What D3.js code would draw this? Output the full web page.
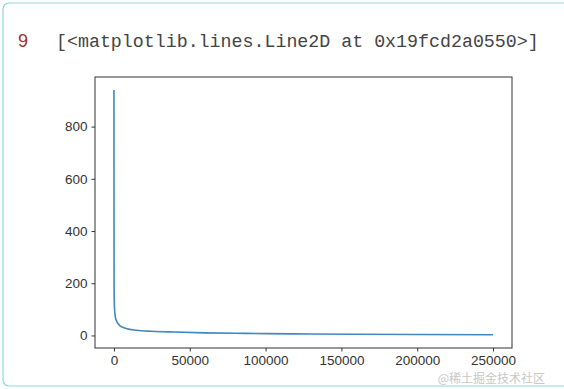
<!DOCTYPE html>
<html>
<head>
<meta charset="utf-8">
<script src="https://cdn.jsdelivr.net/npm/d3@7"></script>
<style>
  body { margin: 0; background: #fff; }
  svg { display: block; }
</style>
</head>
<body>
<script>
// values
var xs = [0, 20, 100, 300, 600, 1000, 2000, 4000, 8000, 15000, 25000, 40000, 60000, 80000, 100000, 130000, 160000, 200000, 250000];
var ys = [940, 600, 180, 110, 85, 68, 52, 37, 27, 20, 16, 13, 10, 8.5, 7, 5.5, 4.5, 3.5, 2.5];
var xTicks = [0, 50000, 100000, 150000, 200000, 250000];
var yTicks = [0, 200, 400, 600, 800];

var width = 564, height = 389;
var margin = {top: 77, right: 52, bottom: 41, left: 95};
var w = width - margin.left - margin.right;
var h = height - margin.top - margin.bottom;

var svg = d3.select("body").append("svg")
    .attr("width", width)
    .attr("height", height);

// notebook cell frame
svg.append("rect")
    .attr("x", 3).attr("y", 3)
    .attr("width", 600).attr("height", 383)
    .attr("rx", 6)
    .attr("fill", "none")
    .attr("stroke", "#8fd6e4")
    .attr("stroke-width", 1.2);

svg.append("text")
    .attr("x", 18).attr("y", 47)
    .attr("font-family", "Liberation Sans, Arial, sans-serif")
    .attr("font-size", "18px")
    .style("fill", "#a03030")
    .text("9");

svg.append("text")
    .attr("x", 56).attr("y", 47)
    .attr("font-family", "Liberation Mono, Courier New, monospace")
    .attr("font-size", "18.3px")
    .style("fill", "#444")
    .text("[<matplotlib.lines.Line2D at 0x19fcd2a0550>]");

var g = svg.append("g")
    .attr("transform", "translate(" + margin.left + ", " + margin.top + ")");

var x = d3.scaleLinear()
    .domain([-12500, 262500])
    .range([0, w]);

var y = d3.scaleLinear()
    .domain([-48, 990])
    .range([h, 0]);

var data = xs.map((d, i) => ({x: d, y: ys[i]}));

var line = d3.line()
    .x((d) => x(d.x))
    .y((d) => y(d.y))
    .curve(d3.curveMonotoneX);

g.append("path")
    .datum(data)
    .attr("fill", "none")
    .attr("stroke", "#3f88c2")
    .attr("stroke-width", 1.6)
    .attr("d", line);

var bottomAxis = d3.axisBottom(x).tickValues(xTicks).tickSize(3.5).tickPadding(4).tickFormat(d3.format("d"));
var leftAxis = d3.axisLeft(y).tickValues(yTicks).tickSize(3.5).tickPadding(4);

var bx = g.append("g")
    .attr("class", "bottom axis")
    .attr("transform", "translate(0, " + h + ")")
    .call(bottomAxis);
var ly = g.append("g").attr("class", "left axis").call(leftAxis);

[bx, ly].forEach((a) => {
    a.select(".domain").remove();
    a.selectAll("line").attr("stroke", "#333");
    a.selectAll("text")
        .attr("font-family", "Liberation Sans, Arial, sans-serif")
        .attr("font-size", "13.5px")
        .style("fill", "#333");
});

// frame of the axes
g.append("rect")
    .attr("width", w).attr("height", h)
    .attr("fill", "none")
    .attr("stroke", "#333")
    .attr("stroke-width", 1);

// watermark
svg.append("text")
    .attr("x", 545).attr("y", 383)
    .attr("text-anchor", "end")
    .attr("font-family", "Noto Sans CJK SC, sans-serif")
    .attr("font-size", "12px")
    .style("fill", "#c8c8c8")
    .text("@稀土掘金技术社区");
</script>
</body>
</html>
